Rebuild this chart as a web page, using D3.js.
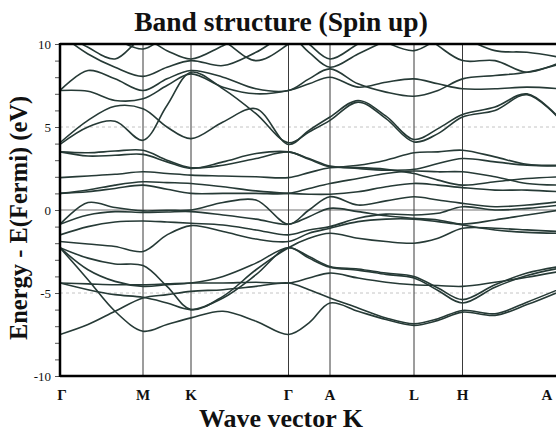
<!DOCTYPE html>
<html>
<head>
<meta charset="utf-8">
<script src="https://cdn.jsdelivr.net/npm/d3@7"></script>
<style>
  body { margin: 0; background: #fff; overflow: hidden; }
  text { font-family: "Liberation Serif", "Times New Roman", serif; }
</style>
</head>
<body>
<svg id="chart" width="556" height="433"></svg>
<script>
// high symmetry points along the path (path length units)
const kPoints = [0, 83, 131, 228.5, 270, 354, 402.5, 500];
const kLabels = ['Γ', 'M', 'K', 'Γ', 'A', 'L', 'H', 'A'];
const kGrid = [0, 28, 55, 83, 107, 131, 163, 196, 228.5, 249, 270, 298, 326, 354, 378, 402.5, 435, 467, 500];
const yTicks = [-10, -5, 0, 5, 10];

// bands below / around the Fermi level (eV)
const valenceBands = [
  [-0.86, 0.45, 0.15, -0.05, -0.02, 0.0, 0.45, 0.6, -0.86, 0.0, 0.8, 0.3, 0.55, 0.8, 0.6, 0.4, 0.2, 0.3, 0.5],
  [-0.86, -0.3, -0.1, -0.15, -0.12, -0.1, -0.3, -0.55, -0.86, -0.4, 0.1, -0.1, -0.35, -0.5, -0.6, -0.9, -1.2, -1.35, -1.4],
  [-1.5, -1.0, -0.72, -0.66, -0.72, -0.8, -0.9, -1.2, -1.5, -1.2, -1.0, -0.5, -0.25, -0.3, -0.2, 0.2, 0.0, 0.1, 0.3],
  [-1.9, -2.05, -2.2, -2.5, -1.5, -0.94, -1.3, -1.75, -1.9, -1.4, -1.1, -0.7, -0.55, -0.55, -0.7, -0.85, -0.6, -0.3, 0.0],
  [-2.27, -2.9, -3.25, -3.35, -4.6, -6.0, -5.2, -3.6, -2.27, -1.7, -1.4, -1.7, -1.9, -2.0, -1.7, -1.1, -1.1, -1.2, -1.3],
  [-2.27, -3.6, -4.3, -4.6, -4.5, -4.4, -4.0, -3.2, -2.27, -2.8, -3.4, -3.55, -3.8, -4.0, -4.7, -5.4, -4.5, -3.8, -3.4],
  [-4.4, -4.45, -4.5, -4.5, -4.45, -4.4, -4.4, -4.35, -4.4, -4.1, -3.8, -4.1, -4.35, -4.5, -4.55, -4.6, -4.35, -4.05, -3.7],
  [-4.4, -4.8, -5.1, -5.26, -5.6, -6.0, -5.3, -3.9, -2.27, -2.9, -3.45, -3.62, -3.88, -4.1, -4.85, -5.6, -4.65, -3.95, -3.5],
  [-2.27, -4.2, -6.1, -7.3, -6.9, -6.5, -6.1, -6.7, -7.5, -6.8, -5.6, -6.1, -6.6, -6.95, -6.65, -6.15, -6.35, -5.7, -4.9],
  [-7.5, -6.9, -6.1, -5.3, -5.1, -4.9, -4.8, -4.6, -4.4, -4.8, -5.3, -5.9, -6.5, -6.85, -6.55, -6.05, -6.25, -5.55, -4.75],
];

// bands above the Fermi level (eV)
const conductionBands = [
  [1.0, 1.1, 1.3, 1.5, 1.25, 1.0, 1.0, 1.0, 1.0, 1.3, 1.6, 1.9, 2.2, 2.35, 2.3, 2.3, 2.0, 1.6, 1.5],
  [1.0, 1.2, 1.5, 1.7, 1.65, 1.6, 1.4, 1.15, 1.0, 0.95, 0.95, 1.1, 1.4, 1.6, 1.5, 1.35, 1.2, 1.2, 1.1],
  [1.95, 2.05, 2.15, 2.3, 2.2, 2.1, 2.05, 2.0, 1.95, 2.25, 2.55, 2.55, 2.45, 2.2, 1.8, 1.5, 1.7, 1.9, 2.0],
  [3.5, 3.25, 3.3, 3.35, 2.9, 2.5, 2.9, 3.4, 3.5, 3.1, 2.65, 2.5, 2.4, 2.45, 2.8, 3.1, 2.9, 2.7, 2.65],
  [3.5, 3.45, 3.55, 3.6, 3.0, 2.55, 2.7, 3.1, 3.5, 3.05, 2.6, 2.7, 3.0, 3.45, 3.5, 3.6, 3.2, 2.75, 2.7],
  [3.95, 5.0, 5.35, 4.2, 6.3, 8.3, 7.3, 5.8, 4.05, 4.7, 5.4, 6.5, 5.5, 4.1, 4.6, 5.6, 6.0, 6.95, 5.45],
  [4.05, 5.4, 6.25, 6.1, 5.0, 4.3, 5.3, 6.1, 3.95, 4.8, 5.6, 6.6, 5.65, 4.25, 4.9, 5.75, 6.2, 7.0, 5.5],
  [7.2, 7.15, 6.6, 6.7, 7.5, 8.2, 7.4, 7.0, 7.2, 7.6, 8.0, 7.4, 7.7, 7.9, 7.6, 7.3, 7.3, 7.4, 7.3],
  [7.2, 8.4, 7.9, 7.2, 7.9, 8.4, 8.0, 7.3, 7.2, 7.9, 8.5, 7.6, 7.1, 6.85, 7.2, 7.9, 8.1, 8.3, 8.8],
  [10.6, 9.4, 8.6, 8.05, 8.6, 9.0, 8.7, 9.5, 10.5, 9.5, 8.6, 9.4, 10.2, 11.0, 9.9, 9.0, 9.0, 8.3, 8.9],
  [10.8, 9.8, 9.1, 10.3, 9.6, 9.1, 9.9, 10.8, 11.0, 10.0, 9.1, 10.0, 10.8, 11.5, 11.0, 10.4, 9.6, 9.5, 9.2],
  [12.0, 11.0, 10.3, 9.7, 10.5, 11.0, 10.2, 9.0, 10.0, 11.0, 12.0, 11.0, 10.1, 9.6, 10.3, 11.0, 10.5, 10.0, 10.2],
];

const bandColor = '#263a36';

const svg = d3.select('#chart');
const margin = { left: 60, top: 44, bottom: 376 };
const plotRight = 560;

const x = d3.scaleLinear().domain([0, 500]).range([margin.left, plotRight]);
const y = d3.scaleLinear().domain([-10, 10]).range([margin.bottom, margin.top]);

svg.append('defs').append('clipPath').attr('id', 'plot-clip')
  .append('rect')
  .attr('x', margin.left)
  .attr('y', margin.top)
  .attr('width', plotRight - margin.left)
  .attr('height', margin.bottom - margin.top);

// reference lines at -5, 0, 5
const refGroup = svg.append('g');
refGroup.selectAll('line')
  .data([-5, 0, 5])
  .enter()
  .append('line')
  .attr('x1', margin.left)
  .attr('x2', plotRight)
  .attr('y1', d => y(d))
  .attr('y2', d => y(d))
  .attr('stroke', d => d === 0 ? '#b8b8b8' : '#c4c4c4')
  .attr('stroke-width', d => d === 0 ? 2 : 1)
  .attr('stroke-dasharray', d => d === 0 ? null : '3,3');

// vertical lines at high symmetry points
svg.append('g')
  .selectAll('line')
  .data(kPoints.slice(1))
  .enter()
  .append('line')
  .attr('x1', d => x(d))
  .attr('x2', d => x(d))
  .attr('y1', margin.top)
  .attr('y2', margin.bottom)
  .attr('stroke', '#3a3a3a')
  .attr('stroke-width', 1);

const bandLine = d3.line()
  .x((d, i) => x(kGrid[i]))
  .y(d => y(d))
  .curve(d3.curveCatmullRom.alpha(0.5));

svg.append('g')
  .attr('clip-path', 'url(#plot-clip)')
  .selectAll('path')
  .data([...valenceBands, ...conductionBands])
  .enter()
  .append('path')
  .attr('d', bandLine)
  .attr('fill', 'none')
  .attr('stroke', bandColor)
  .attr('stroke-width', 1.6);

// y axis with minor ticks each eV
const yAxis = d3.axisLeft(y)
  .tickValues(d3.range(-10, 11))
  .tickSize(5)
  .tickPadding(4)
  .tickFormat(d => yTicks.includes(d) ? d : '');

const yAxisG = svg.append('g')
  .attr('transform', `translate(${margin.left},0)`)
  .call(yAxis);
yAxisG.select('.domain').remove();
yAxisG.selectAll('line').attr('stroke', '#555');
yAxisG.selectAll('text')
  .attr('fill', '#111')
  .style('font-size', '13px')
  .style('font-family', '"Liberation Serif", serif');

// frame
const frame = svg.append('g').attr('stroke', '#000').attr('stroke-width', 2.5);
frame.append('line').attr('x1', margin.left).attr('x2', margin.left).attr('y1', margin.top - 1).attr('y2', margin.bottom + 1);
frame.append('line').attr('x1', margin.left).attr('x2', plotRight).attr('y1', margin.top).attr('y2', margin.top);
frame.append('line').attr('x1', margin.left).attr('x2', plotRight).attr('y1', margin.bottom).attr('y2', margin.bottom);

// k point labels
svg.append('g')
  .selectAll('text')
  .data(kPoints)
  .enter()
  .append('text')
  .attr('x', d => Math.min(x(d) + (d === 0 ? 2 : 0), 547))
  .attr('y', 400)
  .attr('text-anchor', 'middle')
  .style('font-size', '15px')
  .style('font-weight', 'bold')
  .attr('fill', '#111')
  .text((d, i) => kLabels[i]);

svg.append('text')
  .attr('x', 281)
  .attr('y', 31)
  .attr('text-anchor', 'middle')
  .style('font-size', '27.5px')
  .style('font-weight', 'bold')
  .attr('fill', '#111')
  .text('Band structure (Spin up)');

svg.append('text')
  .attr('x', 281)
  .attr('y', 427)
  .attr('text-anchor', 'middle')
  .style('font-size', '26px')
  .style('font-weight', 'bold')
  .attr('fill', '#111')
  .text('Wave vector K');

svg.append('text')
  .attr('transform', 'translate(27,218) rotate(-90)')
  .attr('text-anchor', 'middle')
  .style('font-size', '24.5px')
  .style('font-weight', 'bold')
  .attr('fill', '#111')
  .text('Energy - E(Fermi) (eV)');
</script>
</body>
</html>
